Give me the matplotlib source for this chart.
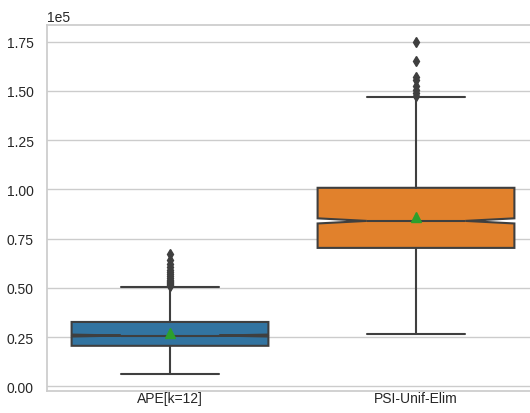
import matplotlib

matplotlib.use("Agg")
import matplotlib.pyplot as plt
import seaborn as sns

# box statistics (values in raw units)
labels = ["APE[k=12]", "PSI-Unif-Elim"]
medians = [25800, 84000]
q1s = [20600, 70300]
q3s = [32700, 100800]
whis_lo = [6100, 26800]
whis_hi = [50500, 146700]
means = [27100, 86100]
ci_half = [500, 1300]
fliers = [
    [51000, 51500, 52000, 52500, 53000, 53500, 54000, 55000, 56000, 57000,
     58000, 59000, 60500, 62000, 64000, 67300],
    [147500, 149000, 150500, 152500, 155500, 157000, 165200, 175000],
]
colors = ["#3274a1", "#e1812c"]

sns.set_theme(style="whitegrid")
plt.rcParams["font.family"] = ["Liberation Sans", "DejaVu Sans"]

fig = plt.figure(figsize=(5.3, 4.14), dpi=100)
ax = fig.add_axes([47 / 530, 22 / 414, 492 / 530, 366 / 414])

stats = []
for i in range(len(labels)):
    stats.append(
        dict(
            label=labels[i],
            med=medians[i],
            q1=q1s[i],
            q3=q3s[i],
            whislo=whis_lo[i],
            whishi=whis_hi[i],
            mean=means[i],
            cilo=medians[i] - ci_half[i],
            cihi=medians[i] + ci_half[i],
            fliers=fliers[i],
        )
    )

line_col = "#3f3f3f"
bp = ax.bxp(
    stats,
    positions=[0, 1],
    widths=0.8,
    shownotches=True,
    showmeans=True,
    patch_artist=True,
    boxprops=dict(edgecolor=line_col, linewidth=1.5),
    whiskerprops=dict(color=line_col, linewidth=1.5),
    capprops=dict(color=line_col, linewidth=1.5),
    medianprops=dict(color=line_col, linewidth=1.5),
    meanprops=dict(marker="^", markerfacecolor="#2ca02c", markeredgecolor="#2ca02c", markersize=7.5),
    flierprops=dict(marker="d", markerfacecolor=line_col, markeredgecolor=line_col, markersize=5),
)
for patch, c in zip(bp["boxes"], colors):
    patch.set_facecolor(c)

ax.set_xlim(-0.5, 1.5)
ax.ticklabel_format(axis="y", style="sci", scilimits=(0, 0), useMathText=False)
ax.tick_params(labelsize=10)
ax.tick_params(axis="x", pad=0, length=0)
ax.yaxis.get_offset_text().set_fontsize(10)
ax.grid(axis="x", visible=False)

fig.savefig("out.png", dpi=100)
